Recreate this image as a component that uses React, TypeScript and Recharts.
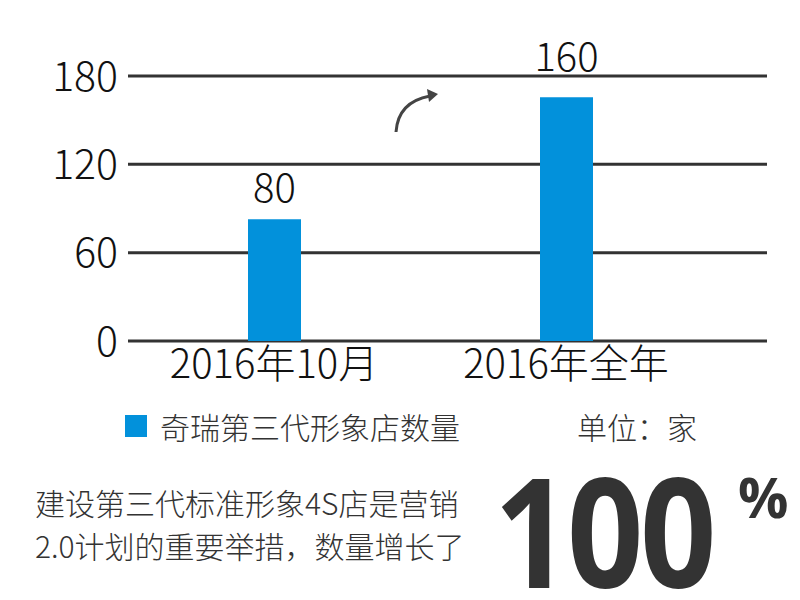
import React from 'react';
import { ComposedChart, Bar, Line, XAxis, YAxis, CartesianGrid, LabelList } from 'recharts';

const categories = ['2016年10月', '2016年全年'];
const storeCounts = [80, 160];
const yTicks = [0, 60, 120, 180];
const seriesName = '奇瑞第三代形象店数量';
const unitText = '单位：家';
const noteLines = ['建设第三代标准形象4S店是营销', '2.0计划的重要举措，数量增长了'];
const growthValue = '100';
const growthUnit = '%';

const data = categories.map((c, i) => ({ category: c, count: storeCounts[i] }));

const FONT = '"Noto Sans CJK SC", "Noto Sans", sans-serif';
const BAR_COLOR = '#0291DB';
const labelOffsets = [17, 26];

const ValueLabel = (props: any) => {
  const { x, y, width, value, index } = props;
  return (
    <text
      x={Number(x) + Number(width) / 2}
      y={Number(y) - labelOffsets[index ?? 0]}
      textAnchor="middle"
      fontSize={40}
      fontWeight={300}
      fontFamily={FONT}
      fill="#111"
    >
      {value}
    </text>
  );
};

export default function App() {
  return (
    <div style={{ position: 'absolute', left: 0, top: 0, width: 800, height: 600, background: '#fff', fontFamily: FONT, overflow: 'hidden' }}>
      <ComposedChart
        width={800}
        height={600}
        data={data}
        margin={{ top: 76, right: 33, left: 0, bottom: 200 }}
      >
        <CartesianGrid yAxisId="left" vertical={false} stroke="#333" strokeWidth={3} />
        <XAxis
          dataKey="category"
          height={59}
          axisLine={false}
          tickLine={false}
          tickSize={0}
          tickMargin={9}
          padding={{ left: 0, right: 55 }}
          tick={{ fontSize: 40, fill: '#111', fontFamily: FONT, fontWeight: 300 }}
          interval={0}
        />
        <YAxis
          yAxisId="left"
          width={128}
          domain={[0, 180]}
          ticks={yTicks}
          axisLine={false}
          tickLine={false}
          tickSize={0}
          tickMargin={10}
          tick={{ fontSize: 41, fill: '#111', fontFamily: FONT, fontWeight: 300 }}
        />
        <YAxis yAxisId="bar" orientation="right" hide domain={[0, 174]} />
        <Line yAxisId="left" dataKey="count" stroke="none" dot={false} activeDot={false} legendType="none" isAnimationActive={false} />
        <Bar yAxisId="bar" dataKey="count" fill={BAR_COLOR} barSize={53} isAnimationActive={false}>
          <LabelList dataKey="count" content={ValueLabel} />
        </Bar>
      </ComposedChart>

      <svg style={{ position: 'absolute', left: 0, top: 0 }} width={800} height={600} pointerEvents="none">
        <path d="M396,132 Q398,102 430,96" fill="none" stroke="#444" strokeWidth={3} />
        <polygon points="438,94 427,89 429,102" fill="#444" />
      </svg>

      <div style={{ position: 'absolute', left: 125, top: 415, width: 22, height: 22, background: BAR_COLOR }} />
      <div style={{ position: 'absolute', left: 160, top: 408, fontSize: 30, fontWeight: 300, color: '#333', lineHeight: '36px', whiteSpace: 'nowrap' }}>
        {seriesName}
      </div>
      <div style={{ position: 'absolute', left: 577, top: 408, fontSize: 30, fontWeight: 300, color: '#333', lineHeight: '36px', whiteSpace: 'nowrap' }}>
        {unitText}
      </div>

      {noteLines.map((line, i) => (
        <div
          key={i}
          style={{ position: 'absolute', left: 35, top: 481 + i * 43, fontSize: 30, fontWeight: 300, color: '#333', lineHeight: '42px', whiteSpace: 'nowrap' }}
        >
          {line}
        </div>
      ))}

      <div
        style={{
          position: 'absolute', left: 494, top: 470, fontSize: 152, fontWeight: 700, color: '#333',
          lineHeight: '120px', whiteSpace: 'nowrap', fontFamily: '"Open Sans", "Noto Sans", sans-serif',
          transform: 'scaleX(0.88)', transformOrigin: 'left top', letterSpacing: -4,
        }}
      >
        {growthValue}
      </div>
      <div
        style={{
          position: 'absolute', left: 738, top: 466, fontSize: 56, fontWeight: 700, color: '#333',
          lineHeight: '60px', whiteSpace: 'nowrap', fontFamily: '"Open Sans", "Noto Sans", sans-serif',
        }}
      >
        {growthUnit}
      </div>
    </div>
  );
}
